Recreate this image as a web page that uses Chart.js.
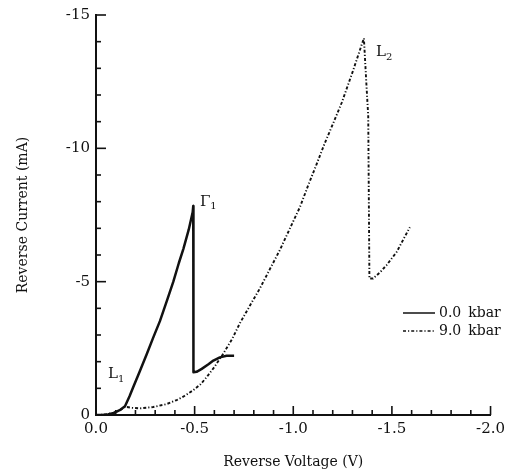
<!DOCTYPE html>
<html>
<head>
<meta charset="utf-8">
<script src="https://cdn.jsdelivr.net/npm/chart.js@4.4.1/dist/chart.umd.min.js"></script>
<style>
  html, body { margin: 0; padding: 0; background: #fff; }
  canvas { display: block; }
</style>
</head>
<body>
<canvas id="c" width="510" height="476"></canvas>
<script>
// ---- Data (Reverse Voltage in V, Reverse Current in mA) ----
const labels0 = '0.0 kbar';
const v0 = [0, -0.03, -0.06, -0.09, -0.12, -0.147, -0.17, -0.189, -0.22, -0.257, -0.29, -0.324, -0.36, -0.392, -0.42, -0.443, -0.47, -0.49, -0.493, -0.494, -0.51, -0.536, -0.57, -0.595, -0.628, -0.662, -0.70];
const i0 = [0, 0, -0.02, -0.08, -0.18, -0.33, -0.7, -1.05, -1.6, -2.28, -2.9, -3.52, -4.3, -5.0, -5.7, -6.23, -6.95, -7.6, -7.84, -1.6, -1.62, -1.73, -1.9, -2.04, -2.16, -2.22, -2.22];

const labels9 = '9.0 kbar';
const v9 = [0, -0.05, -0.1, -0.13, -0.147, -0.18, -0.223, -0.29, -0.358, -0.409, -0.45, -0.493, -0.53, -0.561, -0.6, -0.645, -0.69, -0.73, -0.78, -0.831, -0.88, -0.933, -0.98, -1.034, -1.075, -1.118, -1.16, -1.203, -1.245, -1.30, -1.358, -1.37, -1.38, -1.386, -1.405, -1.44, -1.473, -1.524, -1.591];
const i9 = [0, -0.02, -0.1, -0.22, -0.31, -0.27, -0.25, -0.3, -0.41, -0.56, -0.72, -0.93, -1.15, -1.42, -1.8, -2.3, -2.85, -3.45, -4.1, -4.75, -5.45, -6.2, -6.95, -7.8, -8.6, -9.4, -10.2, -10.95, -11.7, -12.85, -14.13, -12.5, -11.2, -5.12, -5.12, -5.35, -5.62, -6.11, -7.04];

const xTickValues = [0, -0.5, -1.0, -1.5, -2.0];
const yTickValues = [0, -5, -10, -15];

// annotation labels (data-space anchors)
const annText = ['L', 'Γ', 'L'];
const annSub  = ['1', '1', '2'];
const annV    = [-0.061, -0.527, -1.419];
const annI    = [-1.52, -8.0, -13.6];

const FONT = '"DejaVu Serif", "Liberation Serif", serif';
const INK = '#111';

function pts(xs, ys) { return xs.map((x, k) => ({ x: x, y: ys[k] })); }

const inwardTicks = {
  id: 'inwardTicks',
  afterDraw(chart) {
    const ctx = chart.ctx, xs = chart.scales.x, ys = chart.scales.y;
    const area = chart.chartArea;
    ctx.save();
    ctx.strokeStyle = INK;
    ctx.lineWidth = 1.6;
    for (let k = 0; k <= 20; k++) {
      const v = -k / 10;
      const px = xs.getPixelForValue(v);
      const len = (k % 5 === 0) ? 9 : 5;
      ctx.beginPath();
      ctx.moveTo(px, area.bottom);
      ctx.lineTo(px, area.bottom - len);
      ctx.stroke();
    }
    for (let k = 0; k <= 15; k++) {
      const py = ys.getPixelForValue(-k);
      const len = (k % 5 === 0) ? 10 : 5;
      ctx.beginPath();
      ctx.moveTo(area.left, py);
      ctx.lineTo(area.left + len, py);
      ctx.stroke();
    }
    // annotations
    ctx.fillStyle = INK;
    ctx.textBaseline = 'middle';
    ctx.textAlign = 'left';
    for (let k = 0; k < annText.length; k++) {
      const px = xs.getPixelForValue(annV[k]);
      const py = ys.getPixelForValue(annI[k]);
      ctx.font = '15px ' + FONT;
      ctx.fillText(annText[k], px, py);
      const w = ctx.measureText(annText[k]).width;
      ctx.font = '10px ' + FONT;
      ctx.fillText(annSub[k], px + w, py + 5);
    }
    // legend
    const ds = chart.data.datasets;
    const lx = 403, ly = 313, gap = 18;
    ds.forEach((d, k) => {
      const y = ly + k * gap;
      ctx.save();
      ctx.strokeStyle = d.borderColor;
      ctx.lineWidth = 1.5;
      ctx.setLineDash(d.borderDash || []);
      ctx.beginPath();
      ctx.moveTo(lx, y);
      ctx.lineTo(lx + 32, y);
      ctx.stroke();
      ctx.restore();
      ctx.font = '14px ' + FONT;
      ctx.fillStyle = INK;
      ctx.fillText(d.label.replace(' ', '\u2002'), lx + 36, y);
    });
    ctx.restore();
  }
};

new Chart(document.getElementById('c'), {
  type: 'line',
  data: {
    datasets: [
      { label: labels0, data: pts(v0, i0), borderColor: INK, borderWidth: 2.5, pointRadius: 0, tension: 0, borderJoinStyle: 'round', fill: false },
      { label: labels9, data: pts(v9, i9), borderColor: INK, borderWidth: 1.9, borderDash: [3, 2, 1.2, 2], pointRadius: 0, tension: 0, fill: false }
    ]
  },
  options: {
    responsive: false,
    animation: false,
    layout: { padding: { left: 0, right: 19, top: 10, bottom: 0 } },
    plugins: { legend: { display: false }, tooltip: { enabled: false } },
    scales: {
      x: {
        type: 'linear', min: -2, max: 0, reverse: true,
        afterFit: s => { s.height = 61; },
        afterBuildTicks: s => { s.ticks = xTickValues.map(v => ({ value: v })); },
        grid: { display: false, drawTicks: false },
        border: { display: true, color: INK, width: 2 },
        ticks: { padding: 5, color: INK, font: { family: FONT, size: 15 }, maxRotation: 0,
                 callback: v => v.toFixed(1) },
        title: { display: true, text: 'Reverse Voltage (V)', color: INK, font: { family: FONT, size: 14 }, padding: { top: 4, bottom: 5 } }
      },
      y: {
        type: 'linear', min: -15, max: 0, reverse: true,
        afterFit: s => { s.width = 96; },
        afterBuildTicks: s => { s.ticks = yTickValues.map(v => ({ value: v })); },
        grid: { display: false, drawTicks: false },
        border: { display: true, color: INK, width: 2 },
        ticks: { padding: 6, color: INK, font: { family: FONT, size: 15 },
                 callback: v => String(v) },
        title: { display: true, text: 'Reverse Current (mA)', color: INK, font: { family: FONT, size: 14 }, padding: { top: 15, bottom: 4 } }
      }
    }
  },
  plugins: [inwardTicks]
});
</script>
</body>
</html>
